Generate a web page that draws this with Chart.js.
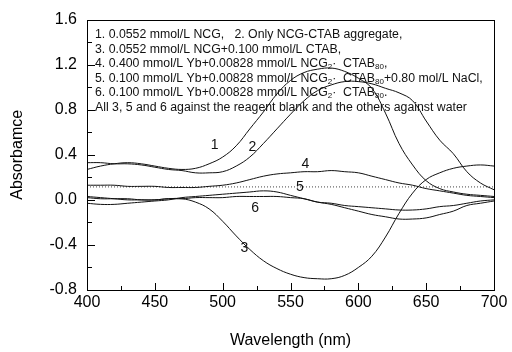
<!DOCTYPE html>
<html>
<head>
<meta charset="utf-8">
<script src="https://cdn.jsdelivr.net/npm/chart.js@4.4.1/dist/chart.umd.min.js"></script>
<style>
  html, body { margin: 0; padding: 0; background: #fff; }
</style>
</head>
<body>
<canvas id="chart" width="512" height="352"></canvas>
<script>
// ---- data ----
const wavelengths = [400,410,420,430,440,450,460,470,480,490,500,510,520,530,540,550,560,570,580,590,600,610,620,630,640,650,660,670,680,690,700];

const curve1 = [0.27,0.30,0.32,0.33,0.32,0.30,0.28,0.27,0.28,0.32,0.38,0.48,0.63,0.78,0.94,1.06,1.13,1.16,1.17,1.14,1.08,0.99,0.77,0.50,0.31,0.17,0.10,0.07,0.05,0.04,0.03];
const curve2 = [0.33,0.33,0.32,0.32,0.31,0.29,0.27,0.26,0.24,0.24,0.25,0.30,0.38,0.50,0.63,0.76,0.88,0.97,1.02,1.05,1.05,1.03,0.99,0.95,0.88,0.70,0.53,0.41,0.25,0.15,0.09];
const curve3 = [0.03,0.02,0.01,0.00,0.00,0.00,0.01,0.01,-0.02,-0.08,-0.19,-0.32,-0.44,-0.54,-0.61,-0.66,-0.69,-0.70,-0.70,-0.67,-0.60,-0.50,-0.33,-0.12,0.06,0.18,0.24,0.28,0.30,0.31,0.30];
const curve4 = [0.13,0.13,0.13,0.12,0.12,0.12,0.11,0.11,0.11,0.12,0.13,0.15,0.18,0.21,0.23,0.24,0.25,0.25,0.26,0.25,0.24,0.21,0.18,0.15,0.13,0.10,0.08,0.06,0.04,0.03,0.02];
const curve5x = [400,700];
const curve5 = [0.115,0.115];
const curve6 = [0.02,0.01,0.01,0.01,0.00,0.00,0.01,0.01,0.02,0.02,0.02,0.03,0.03,0.03,0.03,0.02,0.01,-0.02,-0.03,-0.05,-0.06,-0.07,-0.08,-0.09,-0.09,-0.08,-0.06,-0.05,-0.03,-0.01,0.00];
const curve7 = [-0.03,-0.04,-0.04,-0.03,-0.02,-0.01,0.00,0.02,0.03,0.04,0.05,0.06,0.07,0.08,0.07,0.04,0.01,-0.02,-0.04,-0.07,-0.10,-0.13,-0.15,-0.17,-0.17,-0.16,-0.13,-0.10,-0.05,-0.03,-0.01];

const curveLabels = ["1","2","3","4","5","6"];
const labelX = [494,522,516,561,557,524];
const labelY = [0.49,0.47,-0.43,0.32,0.115,-0.07];

// [text, isSubscript]
const noteLines = [
  [["1. 0.0552 mmol/L NCG,   2. Only NCG-CTAB aggregate,", 0]],
  [["3. 0.0552 mmol/L NCG+0.100 mmol/L CTAB,", 0]],
  [["4. 0.400 mmol/L Yb+0.00828 mmol/L NCG", 0], ["2", 1], ["·  CTAB", 0], ["80", 1], [",", 0]],
  [["5. 0.100 mmol/L Yb+0.00828 mmol/L NCG", 0], ["2", 1], ["·  CTAB", 0], ["80", 1], ["+0.80 mol/L NaCl,", 0]],
  [["6. 0.100 mmol/L Yb+0.00828 mmol/L NCG", 0], ["2", 1], ["·  CTAB", 0], ["80", 1], [".", 0]],
  [["All 3, 5 and 6 against the reagent blank and the others against water", 0]]
];

const FONT = "'Liberation Sans', Arial, sans-serif";

function xy(xs, ys) {
  return xs.map((x, i) => ({ x: x, y: ys[i] }));
}

function curve(values) {
  return {
    data: xy(wavelengths, values),
    borderColor: "#111",
    borderWidth: 1,
    pointRadius: 0,
    tension: 0.4,
    fill: false
  };
}

// frame, inward ticks, notes and curve numbers
const decorations = {
  id: "decorations",
  beforeDatasetsDraw(chart) {
    const ctx = chart.ctx;
    const area = chart.chartArea;
    const sx = chart.scales.x;
    const sy = chart.scales.y;

    ctx.save();
    ctx.fillStyle = "#111";
    ctx.textBaseline = "middle";

    // notes block
    let yy = area.top + 15;
    noteLines.forEach(parts => {
      let xx = area.left + 8;
      parts.forEach(([txt, sub]) => {
        ctx.font = (sub ? "8px " : "12.3px ") + FONT;
        ctx.fillText(txt, xx, sub ? yy + 3 : yy);
        xx += ctx.measureText(txt).width;
      });
      yy += 14.6;
    });

    // curve numbers
    ctx.font = "14px " + FONT;
    ctx.textAlign = "center";
    curveLabels.forEach((lab, i) => {
      ctx.fillText(lab, sx.getPixelForValue(labelX[i]), sy.getPixelForValue(labelY[i]));
    });
    ctx.restore();
  },
  afterDraw(chart) {
    const ctx = chart.ctx;
    const area = chart.chartArea;
    const sx = chart.scales.x;
    const sy = chart.scales.y;

    ctx.save();
    ctx.strokeStyle = "#000";
    ctx.lineWidth = 1;
    ctx.strokeRect(Math.round(area.left) + 0.5, Math.round(area.top) + 0.5,
      Math.round(area.right - area.left), Math.round(area.bottom - area.top));

    ctx.beginPath();
    sx.ticks.forEach(t => {
      const px = Math.round(sx.getPixelForValue(t.value)) + 0.5;
      const len = t.value % 50 === 0 ? 7 : 4;
      ctx.moveTo(px, area.bottom);
      ctx.lineTo(px, area.bottom - len);
    });
    sy.ticks.forEach(t => {
      const py = Math.round(sy.getPixelForValue(t.value)) + 0.5;
      const major = Math.abs(Math.round(t.value / 0.4) * 0.4 - t.value) < 1e-6;
      ctx.moveTo(area.left, py);
      ctx.lineTo(area.left + (major ? 8 : 5), py);
    });
    ctx.stroke();
    ctx.restore();
  }
};

new Chart(document.getElementById("chart"), {
  type: "line",
  data: {
    datasets: [
      curve(curve1),
      curve(curve2),
      curve(curve3),
      curve(curve4),
      {
        data: xy(curve5x, curve5),
        borderColor: "#444",
        borderWidth: 1,
        borderDash: [1, 2],
        pointRadius: 0,
        fill: false
      },
      curve(curve6),
      curve(curve7)
    ]
  },
  options: {
    responsive: false,
    animation: false,
    layout: { padding: { top: 17, right: 18, left: 0, bottom: 0 } },
    plugins: {
      legend: { display: false },
      tooltip: { enabled: false }
    },
    scales: {
      x: {
        type: "linear",
        min: 400,
        max: 700,
        grid: { display: false, drawTicks: false },
        border: { display: false },
        ticks: {
          stepSize: 25,
          autoSkip: false,
          maxRotation: 0,
          padding: 3,
          color: "#000",
          font: { family: FONT, size: 16 },
          callback: v => (v % 50 === 0 ? String(v) : "")
        },
        title: {
          display: true,
          text: "Wavelength (nm)",
          color: "#000",
          font: { family: FONT, size: 16 },
          padding: { top: 2, bottom: 2 }
        },
        afterFit: s => { s.height = 62; }
      },
      y: {
        min: -0.8,
        max: 1.6,
        grid: { display: false, drawTicks: false },
        border: { display: false },
        ticks: {
          stepSize: 0.2,
          autoSkip: false,
          padding: 10,
          color: "#000",
          font: { family: FONT, size: 16 },
          callback: v => {
            if (Math.abs(Math.round(v / 0.4) * 0.4 - v) > 1e-6) return "";
            return Math.abs(v) < 1e-9 ? "0.0" : v.toFixed(1);
          }
        },
        title: {
          display: true,
          text: "Absorbamce",
          color: "#000",
          font: { family: FONT, size: 16 },
          padding: { top: 8, bottom: 8 }
        },
        afterFit: s => { s.width = 87; }
      }
    }
  },
  plugins: [decorations]
});
</script>
</body>
</html>
